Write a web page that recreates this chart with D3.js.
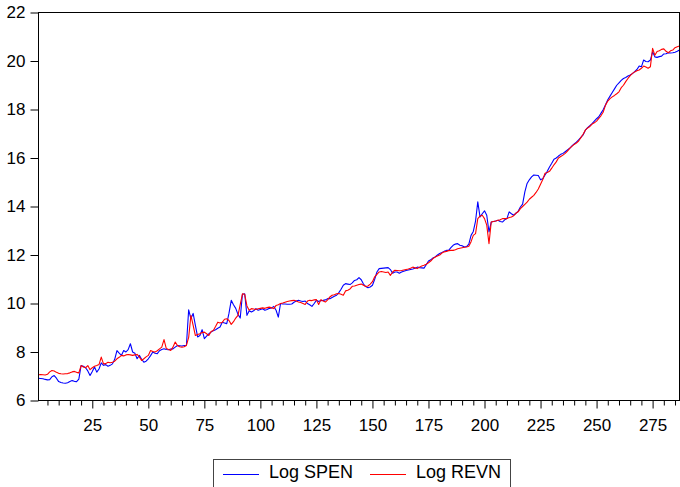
<!DOCTYPE html>
<html>
<head>
<meta charset="utf-8">
<script src="https://cdn.jsdelivr.net/npm/d3@7"></script>
<style>
  body { margin: 0; background: #fff; }
  svg { display: block; font-family: "Liberation Sans", Arial, sans-serif; }
</style>
</head>
<body>
<div id="chart"></div>
<script>
// observations 1..287
const logSpen = [
  6.92, 6.91, 6.90, 6.87, 6.85, 6.86, 6.98, 7.03, 6.92, 6.78,
  6.74, 6.72, 6.71, 6.73, 6.78, 6.82, 6.79, 6.78, 6.88, 7.44,
  7.41, 7.35, 7.22, 7.03, 7.20, 7.38, 7.17, 7.30, 7.55, 7.45,
  7.48, 7.41, 7.45, 7.51, 7.70, 8.06, 7.95, 7.86, 8.06, 8.00,
  8.10, 8.34, 8.00, 7.95, 7.72, 7.86, 7.70, 7.58, 7.62, 7.72,
  7.85, 8.00, 7.95, 7.93, 8.05, 8.10, 8.13, 8.10, 8.09, 8.12,
  8.13, 8.20, 8.27, 8.26, 8.25, 8.27, 8.28, 9.74, 9.38, 9.59,
  9.10, 8.62, 8.68, 8.92, 8.55, 8.65, 8.75, 8.82, 8.88, 8.92,
  8.98, 9.03, 9.23, 9.20, 9.17, 9.60, 10.13, 9.95, 9.80, 9.55,
  9.40, 10.38, 10.40, 9.51, 9.70, 9.65, 9.70, 9.79, 9.72, 9.75,
  9.78, 9.72, 9.75, 9.80, 9.82, 9.88, 9.72, 9.44, 10.00, 9.98,
  9.98, 9.97, 9.97, 9.98, 10.05, 10.10, 10.13, 10.10, 10.08, 10.10,
  10.00, 9.95, 9.88, 10.00, 10.13, 10.08, 10.12, 10.13, 10.15, 10.20,
  10.20, 10.25, 10.30, 10.34, 10.45, 10.59, 10.75, 10.82, 10.80, 10.78,
  10.85, 10.95, 10.98, 11.07, 10.98, 10.80, 10.70, 10.65, 10.68, 10.75,
  11.00, 11.30, 11.44, 11.45, 11.46, 11.47, 11.48, 11.40, 11.25, 11.30,
  11.30, 11.25, 11.30, 11.33, 11.36, 11.38, 11.40, 11.42, 11.45, 11.50,
  11.48, 11.47, 11.46, 11.60, 11.75, 11.80, 11.88, 11.92, 12.00, 12.06,
  12.10, 12.15, 12.19, 12.19, 12.30, 12.40, 12.45, 12.47, 12.40, 12.38,
  12.33, 12.35, 12.45, 12.81, 12.97, 13.40, 14.19, 13.57, 13.70, 13.82,
  13.64, 12.95, 13.36, 13.38, 13.40, 13.43, 13.38, 13.36, 13.45, 13.50,
  13.78, 13.70, 13.64, 13.72, 13.80, 13.98, 14.10, 14.60, 14.95, 15.10,
  15.22, 15.30, 15.29, 15.28, 15.10, 15.15, 15.30, 15.45, 15.63, 15.78,
  15.95, 16.00, 16.08, 16.15, 16.19, 16.26, 16.33, 16.40, 16.50, 16.58,
  16.65, 16.75, 16.85, 16.95, 17.15, 17.25, 17.33, 17.42, 17.52, 17.62,
  17.70, 17.85, 18.00, 18.20, 18.40, 18.55, 18.70, 18.85, 19.00, 19.10,
  19.20, 19.28, 19.32, 19.38, 19.42, 19.48, 19.56, 19.65, 19.79, 19.76,
  20.04, 19.98, 19.97, 20.04, 20.38, 20.17, 20.15, 20.18, 20.20, 20.29,
  20.30, 20.34, 20.33, 20.34, 20.36, 20.40, 20.45
];
const logRevn = [
  7.06, 7.07, 7.06, 7.05, 7.08, 7.18, 7.24, 7.22, 7.16, 7.12,
  7.10, 7.09, 7.10, 7.11, 7.14, 7.18, 7.20, 7.16, 7.14, 7.44,
  7.38, 7.35, 7.44, 7.27, 7.35, 7.41, 7.44, 7.48, 7.79, 7.51,
  7.52, 7.58, 7.56, 7.58, 7.62, 7.72, 7.78, 7.86, 7.84, 7.88,
  7.90, 7.88, 7.86, 7.88, 7.90, 7.80, 7.65, 7.72, 7.80, 7.86,
  8.06, 8.02, 8.00, 8.05, 8.13, 8.20, 8.51, 8.15, 8.10, 8.06,
  8.20, 8.41, 8.27, 8.22, 8.20, 8.22, 8.27, 8.60, 9.51, 9.10,
  8.68, 8.72, 8.75, 8.80, 8.82, 8.75, 8.68, 8.85, 8.89, 9.05,
  9.23, 9.20, 9.22, 9.35, 9.37, 9.30, 9.14, 9.25, 9.40, 9.51,
  9.95, 10.40, 10.38, 9.90, 9.72, 9.79, 9.77, 9.75, 9.78, 9.80,
  9.82, 9.80, 9.83, 9.85, 9.82, 9.79, 9.92, 9.95, 10.00, 10.02,
  10.05, 10.08, 10.10, 10.12, 10.13, 10.10, 10.06, 10.04, 10.00, 9.96,
  10.10, 10.13, 10.12, 10.15, 10.16, 9.96, 10.16, 10.10, 10.06, 10.15,
  10.27, 10.34, 10.36, 10.40, 10.41, 10.38, 10.34, 10.52, 10.55, 10.60,
  10.71, 10.72, 10.75, 10.78, 10.80, 10.75, 10.70, 10.72, 10.80, 10.90,
  11.10, 11.20, 11.30, 11.32, 11.30, 11.28, 11.30, 11.16, 11.30, 11.37,
  11.36, 11.35, 11.36, 11.38, 11.40, 11.42, 11.45, 11.50, 11.47, 11.44,
  11.50, 11.55, 11.58, 11.62, 11.68, 11.75, 11.85, 11.92, 11.96, 12.00,
  12.08, 12.13, 12.15, 12.18, 12.19, 12.19, 12.22, 12.26, 12.28, 12.30,
  12.32, 12.33, 12.36, 12.55, 12.81, 12.88, 13.50, 13.60, 13.64, 13.50,
  13.23, 12.47, 13.36, 13.38, 13.40, 13.43, 13.45, 13.50, 13.50, 13.50,
  13.55, 13.57, 13.62, 13.72, 13.78, 13.91, 14.00, 14.09, 14.18, 14.30,
  14.38, 14.46, 14.58, 14.72, 14.92, 15.11, 15.37, 15.40, 15.45, 15.58,
  15.72, 15.84, 16.00, 16.06, 16.12, 16.19, 16.28, 16.40, 16.48, 16.56,
  16.62, 16.70, 16.84, 16.98, 17.15, 17.24, 17.30, 17.40, 17.45, 17.52,
  17.63, 17.75, 17.90, 18.18, 18.35, 18.45, 18.52, 18.58, 18.65, 18.73,
  18.90, 19.00, 19.15, 19.28, 19.40, 19.49, 19.55, 19.60, 19.63, 19.70,
  19.79, 19.75, 19.70, 19.76, 20.52, 20.24, 20.39, 20.42, 20.48, 20.50,
  20.40, 20.34, 20.42, 20.45, 20.55, 20.59, 20.62
];
const yTicks = [6, 8, 10, 12, 14, 16, 18, 20, 22];
const xTicks = [25, 50, 75, 100, 125, 150, 175, 200, 225, 250, 275];
const seriesNames = ["Log SPEN", "Log REVN"];
const seriesColors = ["#0000ff", "#ff0000"];

const width = 680, height = 487;
const margin = {top: 12.5, right: 0.5, bottom: 86.5, left: 38.5};

const svg = d3.select("#chart").append("svg")
  .attr("width", width)
  .attr("height", height);

const x = d3.scaleLinear()
  .domain([1, logSpen.length])
  .range([margin.left, width - margin.right]);

const y = d3.scaleLinear()
  .domain([6, 22])
  .range([height - margin.bottom, margin.top]);

// minor x ticks every 5
const minor = d3.range(5, logSpen.length, 5).filter(v => v % 25 !== 0);
svg.append("g")
  .attr("transform", `translate(0,${height - margin.bottom})`)
  .call(d3.axisBottom(x).tickValues(minor).tickSize(5).tickFormat(""))
  .call(g => g.select(".domain").remove())
  .call(g => g.selectAll("line").attr("stroke", "#000"));

svg.append("g")
  .attr("transform", `translate(0,${height - margin.bottom})`)
  .call(d3.axisBottom(x).tickValues(xTicks).tickSize(8).tickPadding(10))
  .call(g => g.select(".domain").remove())
  .call(g => g.selectAll("line").attr("stroke", "#000"))
  .call(g => g.selectAll("text").attr("font-size", 17).attr("fill", "#000")
    .attr("font-family", "'Liberation Sans', Arial, sans-serif"));

svg.append("g")
  .attr("transform", `translate(${margin.left},0)`)
  .call(d3.axisLeft(y).tickValues(yTicks).tickSize(8).tickPadding(5))
  .call(g => g.select(".domain").remove())
  .call(g => g.selectAll("line").attr("stroke", "#000"))
  .call(g => g.selectAll("text").attr("font-size", 17).attr("fill", "#000")
    .attr("font-family", "'Liberation Sans', Arial, sans-serif"));

const line = d3.line()
  .x((d, i) => x(i + 1))
  .y(d => y(d));

[logSpen, logRevn].forEach((s, k) => {
  svg.append("path")
    .datum(s)
    .attr("fill", "none")
    .attr("stroke", seriesColors[k])
    .attr("stroke-width", 1.1)
    .attr("stroke-linejoin", "round")
    .attr("d", line);
});

// frame
svg.append("rect")
  .attr("x", margin.left)
  .attr("y", margin.top)
  .attr("width", width - margin.right - margin.left)
  .attr("height", height - margin.bottom - margin.top)
  .attr("fill", "none")
  .attr("stroke", "#000");

// legend
const legend = svg.append("g");
legend.append("rect")
  .attr("x", 213.5).attr("y", 459.5)
  .attr("width", 297).attr("height", 40)
  .attr("fill", "#fff")
  .attr("stroke", "#444");

const legX = [223, 370];
seriesNames.forEach((name, k) => {
  legend.append("line")
    .attr("x1", legX[k]).attr("x2", legX[k] + 36)
    .attr("y1", 474.5).attr("y2", 474.5)
    .attr("stroke", seriesColors[k]);
  legend.append("text")
    .attr("x", legX[k] + 46).attr("y", 478)
    .attr("font-size", 18)
    .text(name);
});
</script>
</body>
</html>
